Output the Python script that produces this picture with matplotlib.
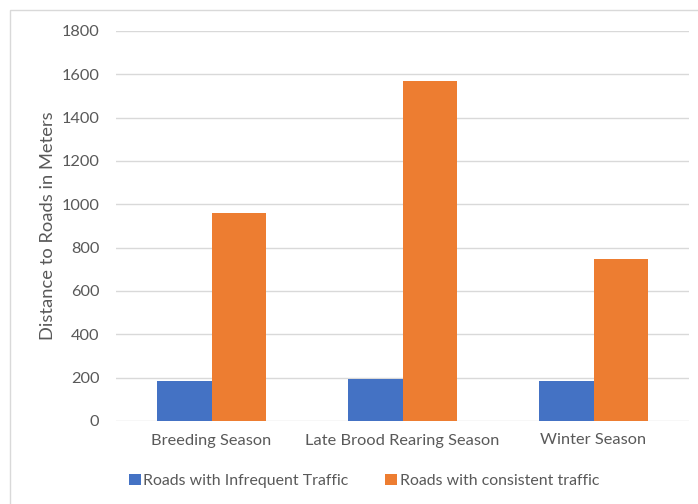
import numpy as np
import matplotlib
matplotlib.use('Agg')
import matplotlib.pyplot as plt
from matplotlib.patches import Rectangle

seasons = ['Breeding Season', 'Late Brood Rearing Season', 'Winter Season']
infrequent = [183, 192, 186]
consistent = [960, 1570, 747]
series_names = ['Roads with Infrequent Traffic', 'Roads with consistent traffic']
yticks = [0, 200, 400, 600, 800, 1000, 1200, 1400, 1600, 1800]

plt.rcParams['font.family'] = ['Lato', 'DejaVu Sans']
text_col = '#595959'
grid_col = '#D9D9D9'

fig = plt.figure(figsize=(6.98, 5.04), dpi=100)
ax = fig.add_axes([116 / 698, 1 - 421 / 504, (689 - 116) / 698, (421 - 31) / 504])

# chart area frame, clipped at the right and bottom edges
fig.patches.append(Rectangle((10 / 698, -0.05), 1.0, 1 - 10 / 504 + 0.05,
                             transform=fig.transFigure, fill=False,
                             edgecolor='#D9D9D9', linewidth=1.0))

x = np.arange(len(seasons))
w = 0.287
ax.bar(x - w / 2, infrequent, w, color='#4472C4', label=series_names[0], zorder=3)
ax.bar(x + w / 2, consistent, w, color='#ED7D31', label=series_names[1], zorder=3)

ax.set_xlim(-0.5, 2.5)
ax.set_ylim(0, 1800)
ax.set_yticks(yticks)
ax.set_xticks(x)
ax.set_xticklabels(seasons)
ax.tick_params(axis='both', length=0, labelsize=11.8, colors=text_col)
ax.tick_params(axis='y', pad=12)
ax.tick_params(axis='x', pad=9)
ax.grid(True, axis='y', color=grid_col, linewidth=1.0, zorder=0)
for s in ax.spines.values():
    s.set_visible(False)

ax.set_ylabel('Distance to Roads in Meters', fontsize=13.2, color=text_col, labelpad=4)

leg = fig.legend(loc='center', bbox_to_anchor=(364 / 698, 1 - 481 / 504), ncol=2,
                 frameon=False, fontsize=11.45, handlelength=0.75, handleheight=0.75,
                 handletextpad=0.15, columnspacing=2.3)
for t in leg.get_texts():
    t.set_color(text_col)

fig.savefig('out.png', dpi=100, facecolor='white')
